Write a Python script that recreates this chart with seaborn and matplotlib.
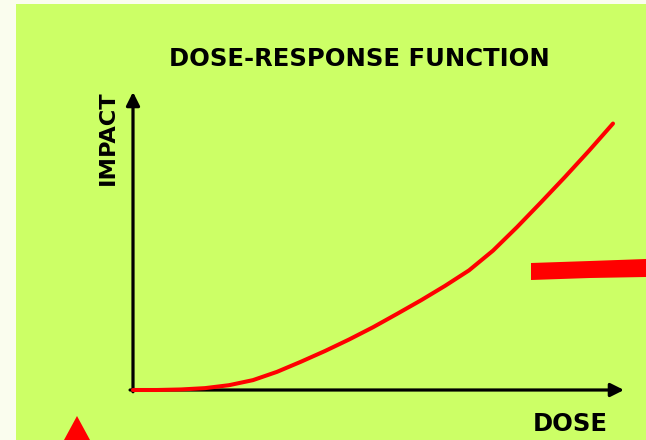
import numpy as np
import pandas as pd
import matplotlib
matplotlib.use("Agg")
import matplotlib.pyplot as plt
from matplotlib.patches import Rectangle, Polygon
import seaborn as sns

# values
dose = [0, 0.5, 1, 1.5, 2, 2.5, 3, 3.5, 4, 4.5, 5, 5.5, 6, 6.5, 7, 7.5, 8, 8.5, 9, 9.5, 10]
impact = [0, 0, 0.02, 0.07, 0.18, 0.37, 0.68, 1.06, 1.46, 1.89, 2.35, 2.85, 3.36,
          3.9, 4.48, 5.22, 6.1, 7.03, 7.98, 8.96, 9.98]

title = "DOSE-RESPONSE FUNCTION"
xlabel = "DOSE"
ylabel = "IMPACT"

W, H = 646, 440
GREEN = "#CCFF66"
BG = "#FAFDEE"

sns.set_theme(style="white")
plt.rcParams['font.family'] = ['DejaVu Sans']

fig = plt.figure(figsize=(W / 100, H / 100), dpi=100, facecolor=BG)

def fx(px):
    return px / W

def fy(py):
    return 1 - py / H

# green slide panel
fig.add_artist(Rectangle((fx(16), 0), 1 - fx(16), fy(4), transform=fig.transFigure,
                         facecolor=GREEN, edgecolor="none", zorder=0))

# decorative red pieces from the slide
fig.add_artist(Polygon([(fx(531), fy(263)), (fx(590), fy(261)), (fx(646), fy(259)),
                        (fx(646), fy(277)), (fx(590), fy(278)), (fx(531), fy(280))],
                       closed=True, transform=fig.transFigure, facecolor="red",
                       edgecolor="none", zorder=1))
fig.add_artist(Polygon([(fx(77), fy(416)), (fx(90), fy(440)), (fx(64), fy(440))],
                       closed=True, transform=fig.transFigure, facecolor="red",
                       edgecolor="none", zorder=1))

ax = fig.add_axes([fx(133), fy(390), fx(624) - fx(133), fy(92) - fy(390)])
ax.set_facecolor("none")
df = pd.DataFrame({"dose": dose, "impact": impact})
sns.lineplot(data=df, x="dose", y="impact", color="red", lw=2.9, ax=ax, zorder=3,
             clip_on=False, solid_capstyle="round", solid_joinstyle="round")
ax.set_xlim(0, 491 / 48)
ax.set_ylim(0, 298 / 26.7)
for s in ax.spines.values():
    s.set_visible(False)
ax.set_xticks([])
ax.set_yticks([])
ax.set_xlabel("")
ax.set_ylabel("")

arrow = dict(arrowstyle="-|>,head_length=0.8,head_width=0.4", lw=2.3, color="black",
             shrinkA=0, shrinkB=0, mutation_scale=10)
ax.annotate("", xy=(1, 0), xytext=(-0.006, 0), xycoords="axes fraction", arrowprops=arrow,
            zorder=2)
ax.annotate("", xy=(0, 1), xytext=(0, -0.006), xycoords="axes fraction", arrowprops=arrow,
            zorder=2)

fig.text(fx(359), fy(59), title, ha="center", va="center", fontsize=17.5,
         fontweight="bold", color="black")
fig.text(fx(108), fy(138), ylabel, ha="center", va="center", rotation=90, fontsize=16.2,
         fontweight="bold", color="black")
fig.text(fx(608), fy(424), xlabel, ha="right", va="center", fontsize=17.5,
         fontweight="bold", color="black")

fig.savefig("out.png", dpi=100, facecolor=BG)
